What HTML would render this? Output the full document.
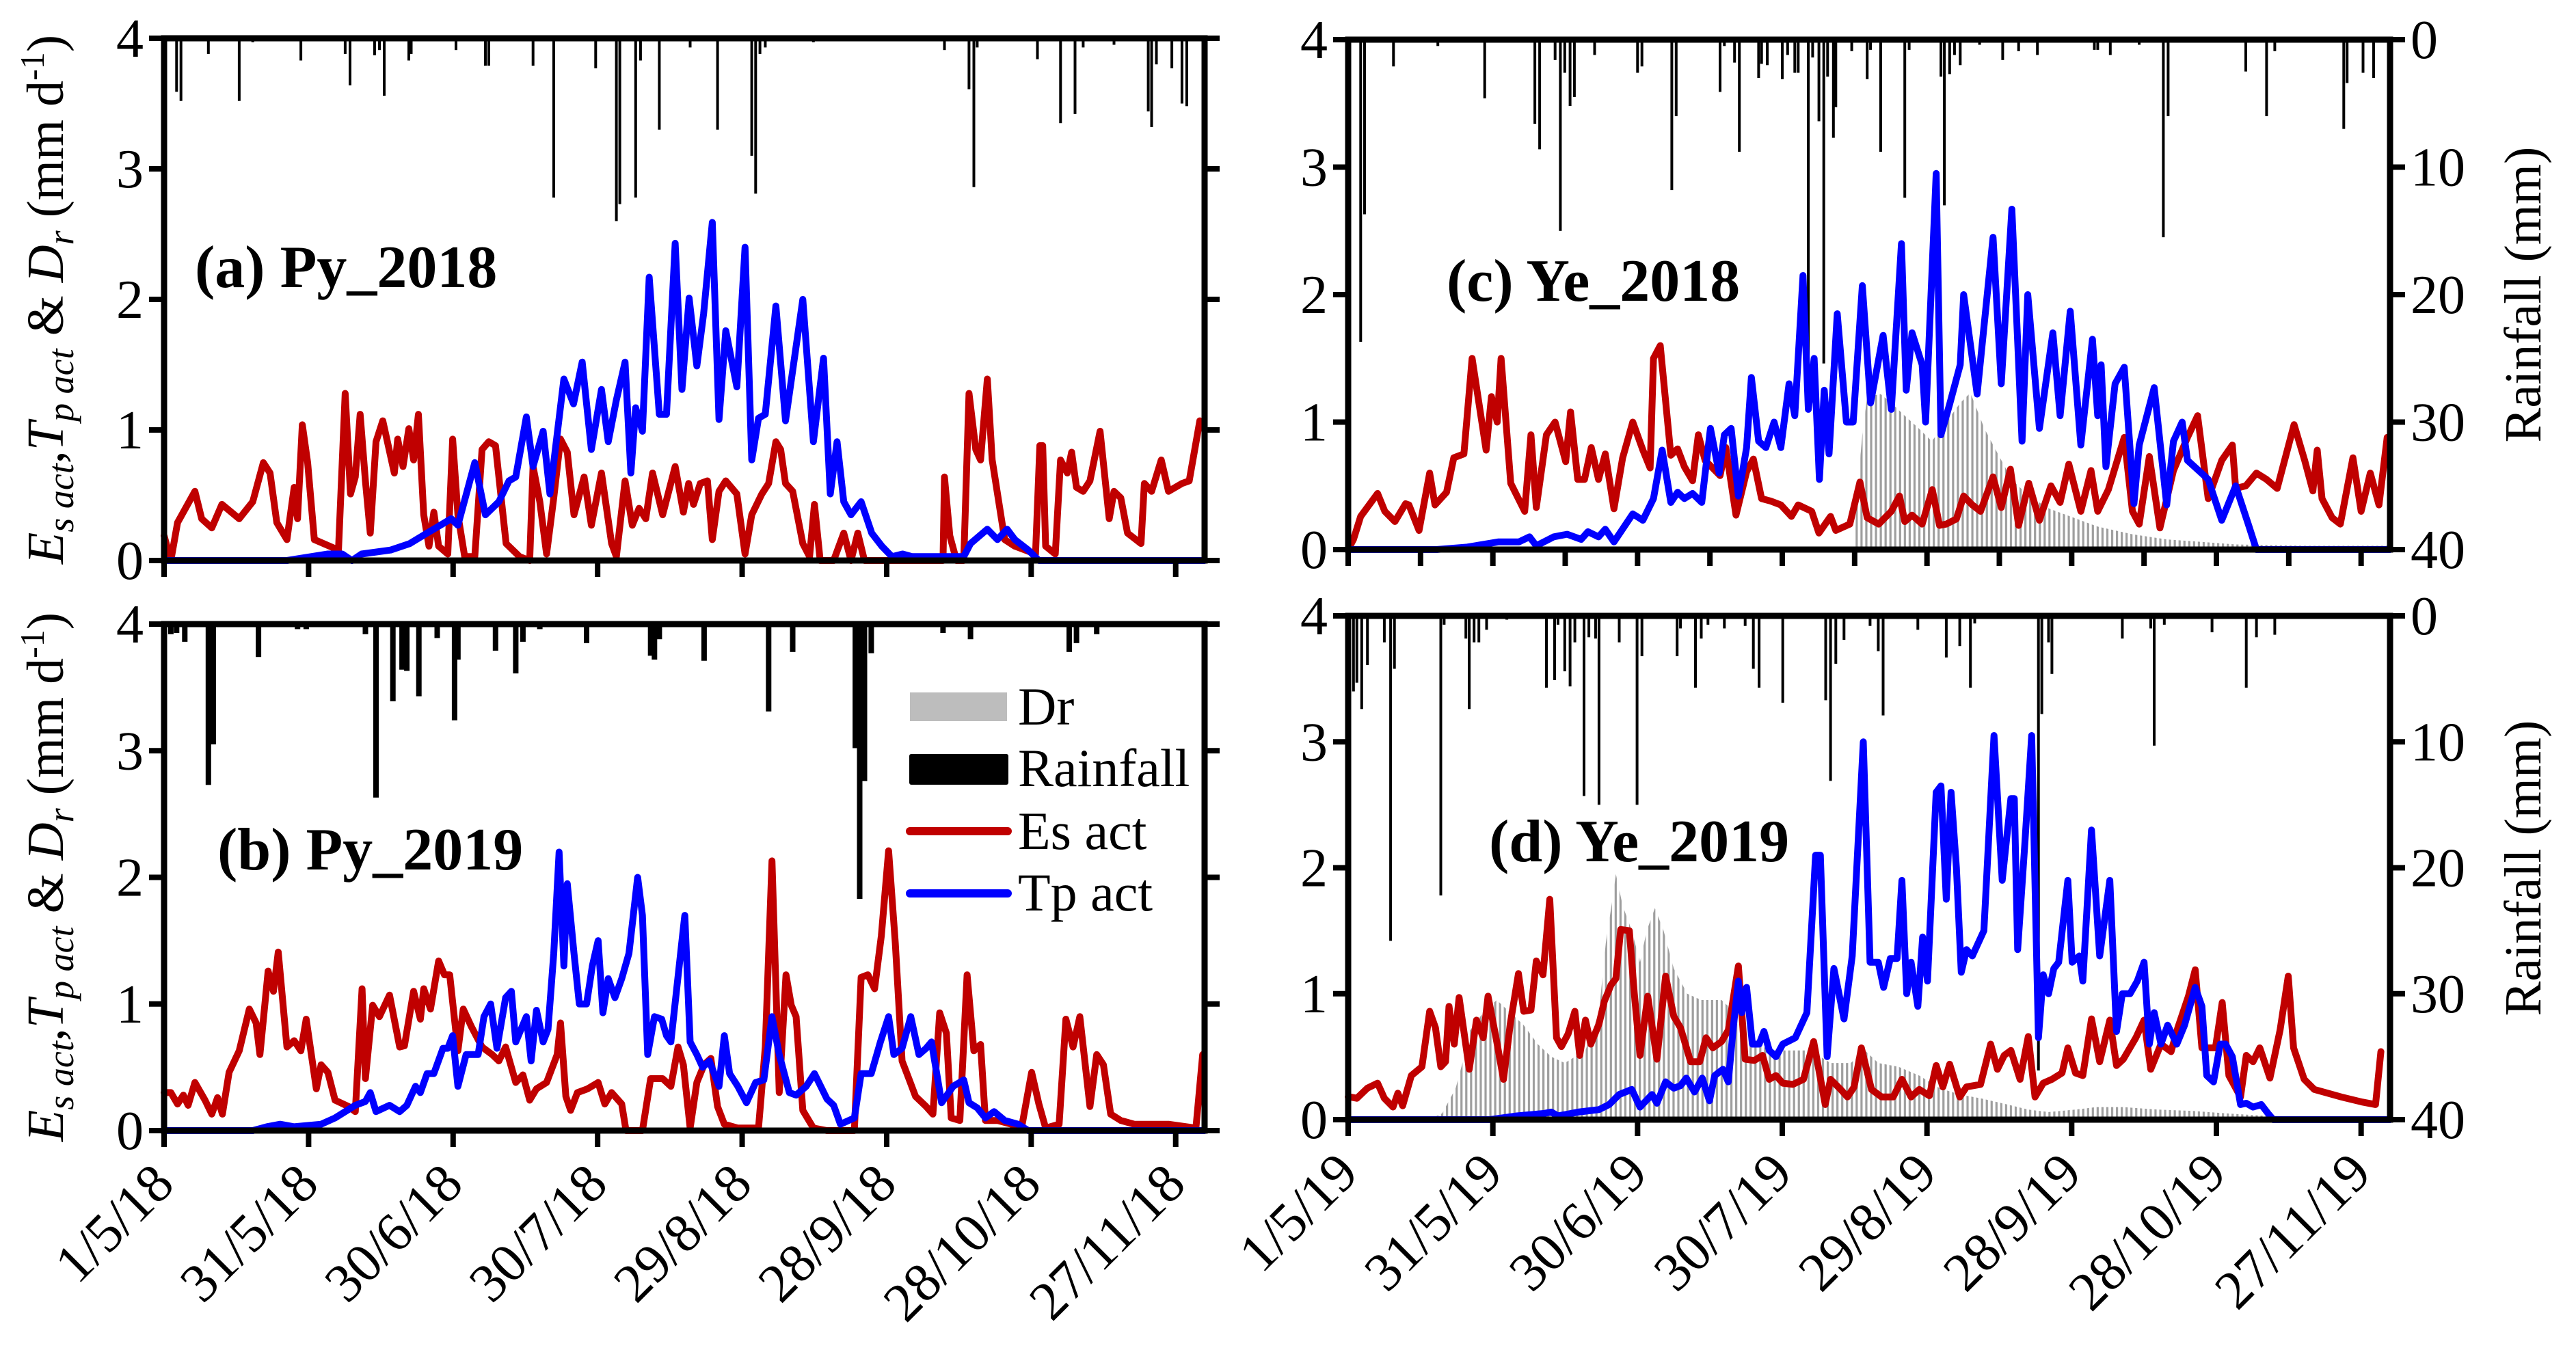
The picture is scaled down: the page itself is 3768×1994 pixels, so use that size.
<!DOCTYPE html>
<html><head><meta charset="utf-8"><title>Es, Tp and Dr chart</title>
<style>
html,body{margin:0;padding:0;background:#fff;}
svg{display:block;font-family:"Liberation Serif","Times New Roman",serif;}
</style></head>
<body>
<svg id="chart" xmlns="http://www.w3.org/2000/svg" width="3768" height="1994" viewBox="0 0 3768 1994">
<defs>
<pattern id="drPat" patternUnits="userSpaceOnUse" width="7.05" height="10"><rect x="0" y="0" width="3.2" height="10" fill="#9e9e9e"/></pattern>
</defs>
<g id="layer"></g>
</svg>
<script>
const ticksY = [0,1,2,3,4];
const ticksRain = [0,10,20,30,40];
const tickDays = [0,30,60,90,120,150,180,210];
const labels2018 = ['1/5/18','31/5/18','30/6/18','30/7/18','29/8/18','28/9/18','28/10/18','27/11/18'];
const labels2019 = ['1/5/19','31/5/19','30/6/19','30/7/19','29/8/19','28/9/19','28/10/19','27/11/19'];

const esA = [[0,.19],[1.4,0],[2.8,.29],[6.4,.53],[7.8,.32],[9.9,.25],[12,.43],[15.6,.32],[18.4,.45],[20.6,.75],[22,.67],[23.4,.29],[25.5,.16],[27,.56],[27.7,.32],[28.7,1.04],[29.8,.75],[31.2,.16],[36.2,.08],[37.6,1.28],[38.7,.51],[39.7,.64],[40.7,1.12],[41.8,.61],[42.8,.21],[44,.91],[45.4,1.07],[47.8,.67],[48.5,.93],[49.6,.72],[50.8,1.01],[51.8,.77],[52.8,1.12],[53.9,.35],[55,.11],[56,.37],[57,.11],[58.9,.05],[59.9,.93],[61,.35],[62.4,.03],[64.5,.03],[66,.85],[67.4,.91],[68.8,.88],[71,.13],[73.8,.03],[75.9,0],[76.6,.72],[78,.45],[79.4,.05],[80.9,.48],[82.3,.93],[83.7,.83],[85.1,.35],[87.2,.64],[88.7,.27],[90.8,.67],[92.9,.13],[93.9,.03],[95.7,.61],[97.2,.27],[98.6,.4],[100,.32],[101.4,.67],[103.5,.35],[106.1,.72],[107.8,.37],[108.9,.59],[109.9,.43],[111.3,.59],[112.8,.61],[113.8,.16],[115.2,.53],[116.6,.61],[118.9,.51],[120.6,.05],[122,.35],[124.1,.51],[125.5,.59],[127,.91],[128,.85],[129,.59],[130.5,.53],[132.6,.13],[134,.03],[135,.43],[136.2,0],[139,0],[141.1,.21],[142.6,0],[144,.21],[145.4,0],[161.7,0],[162,.64],[163.1,.19],[164.5,0],[166,0],[167.1,1.28],[168.5,.85],[169.5,.77],[170.9,1.39],[171.9,.77],[174.5,.16],[176.6,.11],[180.9,.05],[181.8,.88],[182.4,.88],[183,.11],[185,.05],[186.1,.77],[187.5,.67],[188.4,.83],[189.4,.56],[190.8,.53],[192.2,.61],[194.3,.99],[196.2,.32],[197.2,.53],[198.6,.48],[200,.21],[202.8,.13],[203.5,.59],[205,.53],[207,.77],[208.5,.53],[211.3,.59],[212.8,.61],[215,1.07]];
const tpA = [[0,0],[25.5,0],[34,.05],[37,.05],[39,0],[41,.05],[47,.08],[51,.13],[54.6,.21],[59.6,.32],[61,.27],[64.5,.75],[66.7,.35],[69.5,.45],[71.6,.61],[73,.64],[75.2,1.1],[76.6,.72],[78.7,.99],[80.1,.51],[83,1.39],[85,1.2],[86.8,1.52],[88.7,.85],[90.8,1.31],[92.2,.91],[93.9,1.23],[95.7,1.52],[96.9,.67],[97.9,1.17],[99.3,.99],[100.7,2.17],[102.8,1.12],[104.3,1.12],[106.1,2.43],[107.5,1.31],[109,2.01],[110.6,1.49],[112,1.89],[113.8,2.59],[115.2,1.08],[116.6,1.76],[118.9,1.33],[120.6,2.4],[122,.77],[123.4,1.09],[124.8,1.12],[127,1.95],[129,1.07],[132.6,2.0],[134.8,.91],[136.9,1.55],[138.3,.51],[139.7,.91],[141.1,.45],[142.6,.35],[144.7,.45],[146.9,.21],[149,.11],[151.1,.03],[153.3,.05],[155.3,.03],[159.6,.03],[161.7,.03],[166,.03],[167.4,.13],[170.9,.24],[173,.16],[175,.24],[176.6,.16],[179.4,.08],[181.6,0],[216,0]];
const rainA = [[2.6,4.1],[3.5,4.8],[9.2,1.2],[15.6,4.8],[18.4,.3],[28.4,1.7],[37.6,1.2],[38.6,3.6],[43.7,1.3],[44.7,.9],[45.7,4.4],[50.8,1.7],[51.3,1.2],[60.6,.9],[66.7,2.1],[67.4,2.1],[76.6,2.1],[80.9,12.2],[89.6,2.3],[93.9,14],[94.6,12.7],[97.9,12.2],[98.9,1.7],[102.8,7],[109.2,.7],[114.9,7],[122,9],[122.8,11.9],[123.7,1.2],[124.8,.7],[134.8,.3],[162,.9],[167.1,3.9],[168.1,11.4],[168.8,.7],[181.3,1.6],[186.1,6.5],[189.1,5.8],[190.8,.7],[197.2,.5],[204.3,5.6],[205,6.8],[206,2],[209.2,2.3],[211.3,5],[212.3,5.2]];

const esB = [[0,.3],[1.4,.3],[2.8,.21],[4,.28],[5,.2],[6.4,.38],[8.5,.24],[9.9,.13],[11.1,.26],[12.1,.13],[13.5,.46],[15.6,.63],[17.7,.96],[19.1,.85],[19.9,.6],[21.6,1.26],[22.7,1.1],[23.7,1.41],[25.5,.66],[27,.71],[28.4,.63],[29.5,.88],[31.6,.33],[32.6,.52],[34,.46],[35.5,.24],[38.3,.19],[39.7,.15],[41.1,1.12],[41.8,.41],[43.3,.99],[44.7,.9],[46.8,1.07],[48.9,.66],[49.9,.67],[51.8,1.1],[53.2,.88],[53.9,1.12],[55.3,.96],[57,1.34],[58.2,1.23],[59.3,1.23],[61,.63],[62.1,.96],[63.8,.82],[66,.66],[68.1,.6],[69.5,.55],[70.9,.66],[73,.38],[74.5,.44],[75.9,.24],[77.3,.33],[79.4,.38],[81.6,.6],[82.3,.85],[83.4,.27],[84.4,.16],[85.8,.3],[87.9,.33],[90.1,.38],[91.5,.21],[92.9,.3],[95,.21],[95.9,0],[99.3,0],[101,.41],[103.5,.41],[105.2,.35],[106.7,.66],[107.8,.52],[109.2,.02],[110.6,.38],[112.1,.52],[113.5,.57],[114.9,.19],[116.3,.05],[119.1,.02],[123.4,.02],[124.8,.66],[126.2,2.13],[127.7,.3],[129.1,1.23],[130.2,.99],[131.2,.9],[132.6,.16],[134.8,.02],[137.6,0],[143.3,0],[144.7,1.21],[146.1,1.23],[147.5,1.12],[148.9,1.54],[150.4,2.21],[151.8,1.48],[153.2,.55],[154.6,.41],[156,.27],[158.2,.19],[159.6,.13],[161,.93],[162.4,.77],[163.4,.1],[165.2,.08],[166.7,1.23],[168.1,.63],[169.5,.68],[170.5,.08],[173,.08],[175.9,.05],[178,.02],[180.1,.46],[181.6,.21],[183,.02],[185.8,.05],[187.2,.88],[188.7,.66],[190.1,.9],[192.2,.19],[193.6,.6],[195,.52],[196.5,.13],[198.6,.08],[201.4,.05],[208.5,.05],[214.2,.02],[215.6,.6]];
const tpB = [[0,0],[18.4,0],[21.3,.03],[24.1,.05],[27,.03],[32.6,.05],[35.5,.1],[39.7,.2],[41.8,.23],[42.8,.3],[44,.15],[46.8,.2],[48.9,.15],[50.4,.2],[52.2,.35],[53.2,.3],[54.6,.45],[56,.45],[57.9,.65],[58.9,.65],[59.9,.75],[61,.35],[62.7,.6],[65.2,.6],[66.4,.9],[67.8,1.0],[69.1,.65],[70.9,1.05],[72.1,1.1],[73,.7],[75.2,.9],[76.2,.55],[77.3,.95],[78.7,.7],[79.7,.8],[80.9,1.4],[82,2.2],[83,1.3],[83.7,1.95],[85.1,1.4],[86.2,1.0],[87.7,1.0],[88.9,1.3],[90.1,1.5],[91.1,.93],[92.2,1.2],[93.6,1.05],[95,1.2],[96.5,1.4],[98.3,2.0],[99.3,1.7],[100.4,.6],[101.8,.9],[103.3,.88],[104.3,.75],[105.2,.7],[107.8,1.6],[108.1,1.7],[109.2,.7],[110.6,.6],[111.8,.5],[113.2,.55],[115.2,.35],[116.3,.75],[117.4,.45],[119.1,.35],[120.9,.22],[122.8,.38],[124.5,.4],[126.2,.9],[127.7,.6],[129.8,.3],[131.2,.28],[133.3,.35],[135,.45],[137.6,.25],[139,.2],[140.4,.05],[143.3,.1],[144.7,.45],[146.8,.45],[148.7,.7],[150.4,.9],[151.5,.6],[153.2,.65],[155,.9],[156.7,.6],[158.2,.65],[159.3,.7],[161.4,.22],[163.8,.35],[166,.4],[167.1,.22],[168.8,.18],[170.5,.1],[172.3,.15],[174.5,.08],[177.3,.05],[179.4,0],[216,0]];
const rainB = [[1.4,.8],[2.6,.7],[4.3,1.4],[9.2,12.7],[10.2,9.5],[19.6,2.6],[27.7,.4],[29.5,.4],[41.8,.8],[44,13.7],[47.5,6.1],[49.4,3.6],[50.4,3.7],[52.9,5.7],[56.7,1.1],[60.3,7.6],[61,2.8],[68.8,2.1],[73,3.9],[74.5,1.4],[78,.4],[87.7,1.5],[101,2.5],[101.8,2.8],[102.8,1.2],[112.1,2.9],[125.5,6.9],[130.5,2.2],[143.5,9.8],[144.4,21.7],[145.4,12.4],[146.8,2.3],[161.7,.7],[167.4,1.2],[187.9,2.2],[189.4,1.5],[193.6,.8]];

const esC = [[0,0],[1.1,.08],[2.6,.26],[6.1,.44],[7.6,.3],[9.7,.22],[11.9,.36],[12.6,.35],[14.7,.15],[16.9,.6],[18,.35],[20.4,.45],[21.9,.72],[24,.75],[25.7,1.5],[28.6,.78],[29.7,1.2],[30.9,1.0],[31.7,1.5],[33.7,.52],[36.6,.3],[37.9,.9],[39,.33],[41.1,.9],[42.9,1.0],[45.1,.69],[46.1,1.08],[47.6,.55],[49,.55],[50.4,.8],[51.9,.55],[53.3,.75],[55.1,.32],[56.9,.72],[59,1.0],[61.1,.78],[62.6,.64],[63.3,1.5],[64.7,1.6],[66.9,.74],[68.3,.79],[69.7,.65],[71.4,.54],[72.6,.9],[74,.7],[77.1,.58],[78.3,.8],[80.4,.27],[82.6,.61],[84,.71],[85.7,.4],[87.6,.38],[89.7,.35],[91.9,.26],[93.3,.35],[96.1,.3],[97.6,.13],[100,.26],[101.1,.15],[104,.2],[106.1,.53],[107.6,.25],[110,.2],[112.6,.3],[114.3,.42],[115.4,.22],[116.9,.27],[119,.2],[121.1,.47],[122.6,.19],[124,.2],[126.1,.24],[127.6,.42],[129.4,.35],[131.1,.3],[133.7,.57],[135.4,.33],[137.3,.63],[139,.19],[141.1,.52],[143.3,.23],[145.7,.5],[147.6,.37],[149.4,.67],[151.9,.3],[154,.62],[155.4,.3],[157.6,.47],[160.9,.88],[162.6,.3],[164,.2],[166.1,.73],[168.3,.17],[171.1,.62],[174,.88],[176.1,1.05],[178.3,.4],[181.1,.7],[183.3,.82],[184,.48],[186.1,.5],[188.3,.6],[190.4,.55],[192.6,.48],[196.1,.98],[198.3,.7],[200,.46],[200.9,.78],[201.9,.4],[204,.25],[205.7,.2],[208.3,.72],[210,.3],[211.9,.6],[213.7,.35],[215.4,.88]];
const tpC = [[0,0],[18.3,0],[24.7,.02],[31.1,.06],[35.4,.06],[37.6,.1],[39,.03],[42.6,.1],[45.4,.12],[48.3,.08],[49.7,.14],[51.9,.1],[53.3,.16],[55.1,.06],[59,.28],[61.1,.23],[63.3,.4],[65.1,.78],[66.9,.37],[68.3,.45],[69.7,.4],[71.4,.44],[73.3,.37],[75.1,.95],[76.9,.6],[78,.9],[79.4,.95],[80.9,.42],[82.6,.8],[83.6,1.35],[85.1,.85],[86.6,.8],[88.3,1.0],[89.7,.8],[91.4,1.3],[92.6,1.05],[94.3,2.15],[95.4,1.1],[96.6,1.5],[97.7,.55],[98.7,1.25],[99.7,.75],[101.4,1.85],[103.3,1.0],[104.7,1.0],[106.6,2.07],[108.3,1.15],[110.9,1.68],[112.6,1.1],[114.7,2.4],[115.7,1.25],[116.9,1.7],[119,1.45],[119.7,1.0],[121.9,2.95],[122.9,.9],[124.7,1.14],[126.9,1.45],[127.6,2.0],[130.4,1.22],[133.7,2.45],[135.4,1.3],[137.6,2.67],[139.7,.85],[140.9,2.0],[143.3,.95],[146.1,1.7],[147.6,1.05],[149.7,1.87],[151.9,.82],[154.3,1.65],[155.4,1.05],[156.1,1.45],[157.1,.65],[159,1.3],[160.9,1.43],[162.9,.36],[164,.82],[167.1,1.27],[169.7,.35],[171.1,.85],[172.9,1.0],[174,.7],[176.9,.6],[178.3,.55],[181.1,.23],[184,.5],[186.6,.2],[188.3,0],[216,0]];
const drC = [[105,0],[105.4,.4],[106.6,.9],[107.6,1.2],[110.4,1.22],[112.6,1.15],[115.4,1.05],[118.3,.95],[121,.85],[124,1.0],[126.9,1.15],[129,1.23],[131.9,.95],[134.7,.75],[137.6,.55],[141.1,.42],[145.4,.32],[149.7,.26],[155.4,.18],[162.6,.12],[169.7,.08],[176.9,.06],[184,.04],[198.3,.03],[215.4,.03],[215.5,0]];
const rainC = [[2.6,23.7],[3.4,13.7],[9.4,2.1],[18.6,.5],[28.3,4.6],[38.7,6.6],[39.7,8.6],[42.9,1.6],[44,15],[44.9,2.6],[46,5.2],[46.9,4.5],[51.1,1.2],[60,2.6],[60.9,2.1],[67.1,11.8],[68,6],[77.1,4.1],[78,.5],[80.1,1.8],[81.1,8.8],[85.1,3],[85.7,1.9],[86.9,2],[90,3.1],[91.1,1.2],[92.6,2.6],[93.3,2.6],[95.4,28.9],[96.3,1.4],[97.6,6.4],[98.6,25.4],[99.4,2.9],[100.6,7.7],[101.1,5.3],[104.4,.9],[107.6,3.1],[108.3,.8],[110.4,8.8],[115.4,12.4],[116.3,.8],[122.9,2.9],[123.6,13],[124.7,2.7],[125.7,1.2],[126.9,2],[130.9,.4],[135.7,1.6],[139,.9],[142.9,1.2],[154.7,.8],[155.4,.8],[158,1.2],[164,.4],[169,15.5],[170,6],[186.1,2.5],[190.4,6],[192.1,.9],[206.4,7],[207.1,3.4],[210.4,2.6],[212.6,3]];

const esD = [[0,.18],[.4,.18],[1.8,.17],[4,.25],[6.1,.29],[7.5,.17],[9.3,.1],[10.3,.21],[11.3,.11],[13.1,.35],[15.3,.42],[16.9,.86],[18.1,.73],[19.2,.42],[20.2,.46],[20.9,.9],[22,.6],[23,.97],[25.1,.4],[26.6,.79],[28,.65],[29,.98],[30.8,.62],[32.2,.32],[33.6,.76],[35.3,1.16],[36.4,.86],[37.9,.87],[39,1.26],[40.4,1.15],[41.8,1.75],[43.2,.65],[44.2,.58],[45.6,.68],[47,.86],[48,.51],[49.2,.79],[50.3,.6],[52,.76],[53.1,.94],[54.5,1.07],[55.5,1.12],[56.5,1.51],[58.3,1.5],[59.3,1.01],[60.5,.51],[62.1,.98],[64,.48],[65.8,1.14],[67.5,.82],[68.9,.73],[71,.46],[72.9,.46],[74.2,.65],[75.6,.57],[77.4,.62],[78.8,.71],[80.9,1.22],[82.3,.48],[84.2,.47],[85.9,.51],[87.3,.32],[88.7,.35],[90.1,.29],[92.2,.28],[94.4,.32],[96.5,.62],[98.9,.12],[100,.32],[102.1,.24],[103.5,.18],[104.9,.26],[106.4,.57],[108.5,.24],[110.6,.18],[113,.18],[114.8,.32],[116.7,.18],[118.4,.24],[120.5,.19],[121.9,.43],[123.3,.26],[124.7,.44],[126.8,.18],[128.2,.26],[131.1,.28],[133.2,.6],[134.6,.4],[136,.51],[137.4,.55],[139.3,.32],[141,.66],[142.4,.18],[144.1,.29],[145.9,.32],[148,.37],[149.2,.57],[150.8,.37],[152.3,.35],[154.1,.8],[155.8,.46],[157.9,.79],[159.3,.43],[160.7,.48],[163.3,.65],[165,.79],[166.4,.4],[168.5,.6],[170.6,.54],[172,.73],[174.2,.98],[175.6,1.19],[177,.57],[179.8,.57],[181.2,.93],[182.6,.35],[185,.18],[186.2,.51],[187.6,.46],[189,.57],[191.1,.33],[193.2,.71],[194.9,1.14],[196,.57],[198.2,.32],[200.3,.24],[203.1,.21],[205.9,.18],[210.2,.14],[213,.12],[214.1,.54]];
const tpD = [[0,0],[29.4,0],[35,.03],[40.7,.05],[42.1,.06],[43.5,.03],[47.7,.06],[52,.08],[54.1,.12],[56.2,.2],[58.8,.24],[60.5,.1],[63,.2],[64,.13],[65.8,.3],[67.5,.25],[68.9,.27],[70.1,.33],[71.8,.22],[73.4,.33],[74.9,.15],[76,.35],[77.7,.4],[78.8,.3],[79.9,.75],[80.9,1.1],[81.6,.85],[82.6,1.05],[83.8,.6],[85.2,.6],[86.2,.7],[87.3,.55],[88.7,.5],[90.1,.6],[92.7,.65],[95.1,.85],[96.9,2.1],[97.9,2.1],[99.3,.5],[100.7,1.2],[102.8,.8],[104.5,1.3],[106.8,3.0],[108.2,1.25],[109.9,1.25],[111,1.05],[112.4,1.28],[113.8,1.28],[114.8,1.9],[115.8,1.0],[116.7,1.25],[118.1,.9],[119.1,1.45],[120.1,1.1],[121.9,2.6],[122.9,2.65],[124,1.75],[125,2.6],[126.1,2.0],[127.1,1.17],[128.2,1.35],[129.4,1.3],[131.8,1.5],[133.9,3.05],[135.6,1.9],[137.4,2.55],[138.1,2.55],[138.8,1.35],[140.3,2.2],[141.7,3.05],[143.1,.65],[144.1,1.15],[145.2,1.0],[146.3,1.2],[147.3,1.25],[149.2,1.9],[150.1,1.25],[151.6,1.3],[152.3,1.1],[154.1,2.3],[155.8,1.3],[157.9,1.9],[159.3,.7],[160.5,1.0],[162.1,1.0],[163.6,1.1],[165,1.25],[166.1,.6],[167.1,.85],[168.5,.6],[169.9,.75],[171.8,.6],[173.4,.75],[175.6,1.05],[177,.9],[178,.35],[179.4,.3],[180.8,.6],[181.9,.6],[183.3,.5],[185,.12],[186.2,.13],[187.6,.1],[189.3,.12],[190.7,.05],[191.8,0],[216,0]];
const drD = [[16.7,0],[19.5,.05],[22.3,.25],[23.7,.45],[25.1,.7],[28,.85],[30.8,.95],[33.6,.85],[36.4,.75],[39.3,.6],[42.1,.5],[44.9,.45],[49.2,.55],[52,.85],[53.4,1.4],[54.8,1.75],[55.5,1.95],[56.9,1.7],[58.8,1.5],[60.5,1.25],[61.9,1.5],[63.6,1.68],[65.4,1.5],[67.5,1.2],[70.3,1.0],[73.2,.95],[77.4,.95],[80.2,.85],[83.1,.65],[87.3,.55],[91.5,.55],[95.8,.55],[100,.45],[104.2,.45],[107.1,.55],[109.9,.45],[114.1,.42],[118.4,.35],[122.6,.25],[126.8,.2],[131.1,.17],[136.7,.12],[141,.08],[145.2,.06],[150.8,.08],[155.1,.1],[160.7,.1],[167.8,.08],[174.9,.07],[181.9,.05],[190.4,.03],[203.1,.02],[213,.02],[213.1,0]];
const rainD = [[1.1,6],[1.8,5.3],[2.8,7.4],[4,3.9],[7.5,2.1],[8.8,25.8],[9.6,4.2],[19.2,22.2],[19.9,.7],[24.4,1.8],[25.1,7.4],[26.1,2.1],[27.1,2.1],[28.7,1.1],[32.9,.3],[41.1,5.7],[42.8,5.1],[43.5,.7],[44.9,4.4],[46,5.6],[47,2.1],[48.9,14.3],[49.9,1.7],[51.3,1.8],[52,15],[56.2,2.1],[59.9,15],[60.9,3.2],[68.2,3.2],[68.9,1],[72,5.7],[73.2,1.8],[74.6,.7],[78,1],[82.3,.8],[84,4.2],[85.2,5.7],[90.1,6.9],[99,6.7],[100,13.1],[101.1,3.8],[102.8,1.9],[108.2,.8],[109.9,2.8],[110.9,7.9],[118.1,1.1],[124,3.3],[126.8,2.4],[129,5.7],[129.9,.6],[143.1,36.1],[143.8,7.8],[145.2,2.1],[145.9,4.6],[160.5,1.8],[166.4,1],[167.1,10.3],[169.2,.7],[179.1,1.3],[186.2,5.7],[188.3,1.7],[192.1,1.5]];

const NS = 'http://www.w3.org/2000/svg';
const layer = document.getElementById('layer');
function mk(tag, attrs, parent){ const e=document.createElementNS(NS,tag); for(const k in attrs) e.setAttribute(k,attrs[k]); (parent||layer).appendChild(e); return e; }

const panels = [
 {id:'a', x0:240,x1:1762,y0:56,y1:820, es:esA,tp:tpA,rain:rainA,dr:null,label:'(a) Py_2018',lx:285,ly:420,rainW:4,right:false,minor:false},
 {id:'b', x0:240,x1:1762,y0:913,y1:1654, es:esB,tp:tpB,rain:rainB,dr:null,label:'(b) Py_2019',lx:318,ly:1272,rainW:8,right:false,minor:false,xl:labels2018},
 {id:'c', x0:1972,x1:3496,y0:58,y1:804, es:esC,tp:tpC,rain:rainC,dr:drC,label:'(c) Ye_2018',lx:2116,ly:440,rainW:4,right:true,minor:true},
 {id:'d', x0:1972,x1:3496,y0:901,y1:1638, es:esD,tp:tpD,rain:rainD,dr:drD,label:'(d) Ye_2019',lx:2178,ly:1260,rainW:4,right:true,minor:false,xl:labels2019}
];

panels.forEach(p=>{
  const g = mk('g',{});
  
  
  const xs = d => p.x0 + d*(p.x1-p.x0)/216;
  const ys = v => p.y1 - v*(p.y1-p.y0)/4;
  const yr = mm => p.y0 + mm*(p.y1-p.y0)/40;
  if(p.dr){
    let pts = p.dr.map(q=>xs(q[0]).toFixed(1)+','+ys(q[1]).toFixed(1));
    pts.unshift(xs(p.dr[0][0]).toFixed(1)+','+p.y1);
    pts.push(xs(p.dr[p.dr.length-1][0]).toFixed(1)+','+p.y1);
    const dr = mk('polygon',{points:pts.join(' '),fill:'url(#drPat)'},g);
    
    
  }
  p.rain.forEach((r,i)=>{
    const b = mk('rect',{x:(xs(r[0])-p.rainW/2).toFixed(1),y:p.y0,width:p.rainW,height:(yr(r[1])-p.y0).toFixed(1),fill:'#000'},g);
    
    
  });
  const line = (arr,col,name)=>{
    const d = arr.map((q,i)=>(i?'L':'M')+xs(q[0]).toFixed(1)+' '+ys(q[1]).toFixed(1)).join(' ');
    const l = mk('path',{d:d,fill:'none',stroke:col,'stroke-width':10,'stroke-linejoin':'round','stroke-linecap':'round'},g);
    
    
  };
  line(p.es,'#c00000','es-act-line-'+p.id);
  line(p.tp,'#0000ff','tp-act-line-'+p.id);
  const fr = mk('rect',{x:p.x0,y:p.y0,width:p.x1-p.x0,height:p.y1-p.y0,fill:'none',stroke:'#000','stroke-width':9},g);
  
  
  ticksY.forEach(t=>{
    const y=ys(t);
    mk('line',{x1:p.x0-22,x2:p.x0,y1:y,y2:y,stroke:'#000','stroke-width':8},g);
    mk('line',{x1:p.x1,x2:p.x1+22,y1:y,y2:y,stroke:'#000','stroke-width':8},g);
    const tl = mk('text',{x:p.x0-30,y:y+27,'text-anchor':'end','font-size':80},g);
    tl.textContent=t;
    
    
  });
  if(p.right){
    ticksRain.forEach(t=>{
      const tl = mk('text',{x:p.x1+30,y:yr(t)+27,'text-anchor':'start','font-size':80},g);
      tl.textContent=t;
      
      
    });
  }
  tickDays.forEach((d,i)=>{
    const x=xs(d);
    mk('line',{x1:x,x2:x,y1:p.y1,y2:p.y1+24,stroke:'#000','stroke-width':8},g);
    if(p.minor){ const xm=xs(d+15); if(d+15<216) mk('line',{x1:xm,x2:xm,y1:p.y1,y2:p.y1+24,stroke:'#000','stroke-width':8},g); }
    if(p.xl){
      const tx=x+18, ty=p.y1+82;
      const tl = mk('text',{x:tx,y:ty,'text-anchor':'end','font-size':80,transform:'rotate(-45 '+tx+' '+ty+')'},g);
      tl.textContent=p.xl[i];
      
      
    }
  });
  const lab = mk('text',{x:p.lx,y:p.ly,'font-size':88,'font-weight':'bold'},g);
  lab.textContent=p.label;
  
  
});

function ytitle(cy,name){
  const t = mk('text',{x:0,y:0,'font-size':76,'text-anchor':'middle',transform:'translate(92 '+cy+') rotate(-90)'});
  
  
  t.innerHTML='<tspan font-style="italic">E</tspan><tspan font-style="italic" font-size="54" dy="15">s act</tspan><tspan dy="-15">,</tspan><tspan font-style="italic">T</tspan><tspan font-style="italic" font-size="54" dy="15">p act</tspan><tspan dy="-15"> &amp; </tspan><tspan font-style="italic">D</tspan><tspan font-style="italic" font-size="54" dy="15">r</tspan><tspan dy="-15"> (mm d</tspan><tspan font-size="50" dy="-28">-1</tspan><tspan dy="28">)</tspan>';
}
ytitle(438,'y-axis-title-top');
ytitle(1283,'y-axis-title-bottom');
function rtitle(cy,name){
  const t = mk('text',{x:0,y:0,'font-size':76,'text-anchor':'middle',transform:'translate(3716 '+cy+') rotate(-90)'});
  t.textContent='Rainfall (mm)';
  
  
}
rtitle(431,'rain-axis-title-top');
rtitle(1270,'rain-axis-title-bottom');

const lg = mk('g',{});


const s1 = mk('rect',{x:1331,y:1013,width:142,height:42,fill:'#bdbdbd'},lg);


const s2 = mk('rect',{x:1330,y:1103,width:145,height:45,fill:'#000',rx:3},lg);


const s3 = mk('line',{x1:1331,x2:1474,y1:1216,y2:1216,stroke:'#c00000','stroke-width':12,'stroke-linecap':'round'},lg);


const s4 = mk('line',{x1:1331,x2:1474,y1:1307,y2:1307,stroke:'#0000ff','stroke-width':12,'stroke-linecap':'round'},lg);


[['Dr',1060],['Rainfall',1150],['Es act',1242],['Tp act',1332]].forEach(e=>{
  const t = mk('text',{x:1489,y:e[1],'font-size':78},lg);
  t.textContent=e[0];
  
  
});
</script>
</body></html>
